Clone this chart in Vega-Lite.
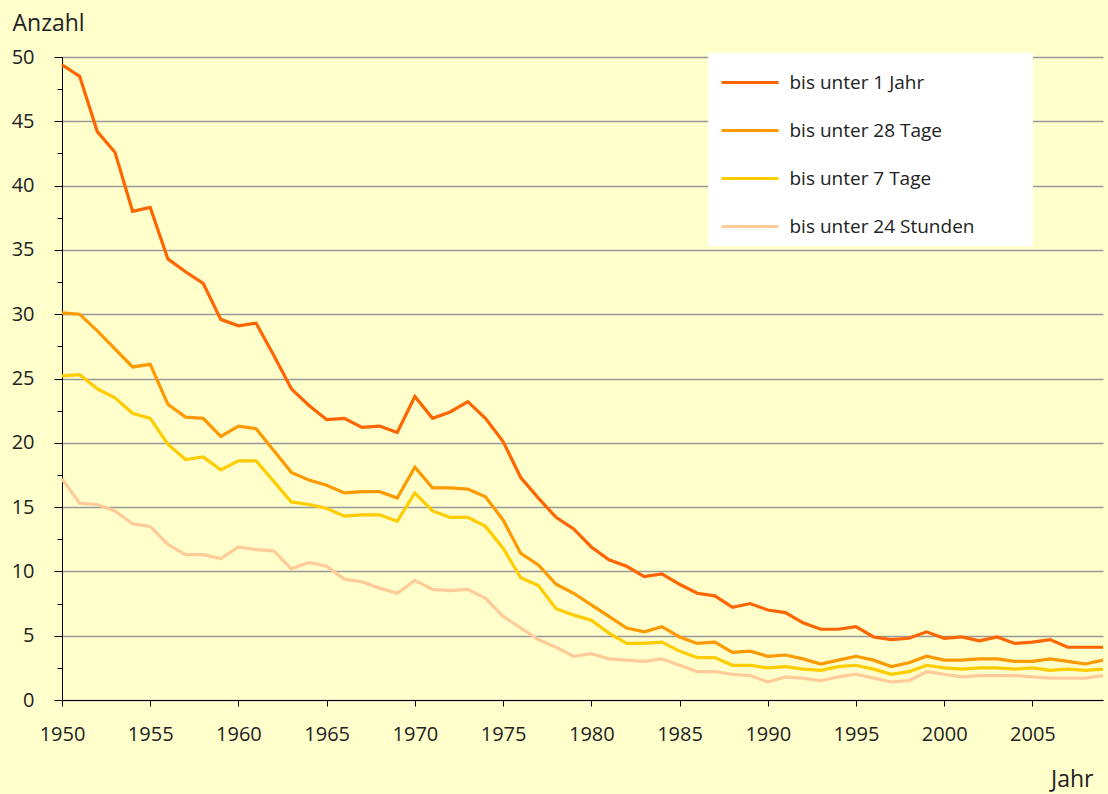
{
  "$schema": "https://vega.github.io/schema/vega-lite/v6.json",
  "width": 1041,
  "height": 643,
  "autosize": "none",
  "padding": {"left": 62, "top": 57, "right": 5, "bottom": 94},
  "background": "#ffffcc",
  "config": {"view": {"stroke": null}, "font": "Open Sans"},
  "data": {"values": [
    {"Jahr":1950,"bis unter 1 Jahr":49.4,"bis unter 28 Tage":30.1,"bis unter 7 Tage":25.2,"bis unter 24 Stunden":17.2},
    {"Jahr":1951,"bis unter 1 Jahr":48.5,"bis unter 28 Tage":30.0,"bis unter 7 Tage":25.3,"bis unter 24 Stunden":15.3},
    {"Jahr":1952,"bis unter 1 Jahr":44.2,"bis unter 28 Tage":28.7,"bis unter 7 Tage":24.2,"bis unter 24 Stunden":15.2},
    {"Jahr":1953,"bis unter 1 Jahr":42.6,"bis unter 28 Tage":27.3,"bis unter 7 Tage":23.5,"bis unter 24 Stunden":14.7},
    {"Jahr":1954,"bis unter 1 Jahr":38.0,"bis unter 28 Tage":25.9,"bis unter 7 Tage":22.3,"bis unter 24 Stunden":13.7},
    {"Jahr":1955,"bis unter 1 Jahr":38.3,"bis unter 28 Tage":26.1,"bis unter 7 Tage":21.9,"bis unter 24 Stunden":13.5},
    {"Jahr":1956,"bis unter 1 Jahr":34.3,"bis unter 28 Tage":23.0,"bis unter 7 Tage":19.9,"bis unter 24 Stunden":12.1},
    {"Jahr":1957,"bis unter 1 Jahr":33.3,"bis unter 28 Tage":22.0,"bis unter 7 Tage":18.7,"bis unter 24 Stunden":11.3},
    {"Jahr":1958,"bis unter 1 Jahr":32.4,"bis unter 28 Tage":21.9,"bis unter 7 Tage":18.9,"bis unter 24 Stunden":11.3},
    {"Jahr":1959,"bis unter 1 Jahr":29.6,"bis unter 28 Tage":20.5,"bis unter 7 Tage":17.9,"bis unter 24 Stunden":11.0},
    {"Jahr":1960,"bis unter 1 Jahr":29.1,"bis unter 28 Tage":21.3,"bis unter 7 Tage":18.6,"bis unter 24 Stunden":11.9},
    {"Jahr":1961,"bis unter 1 Jahr":29.3,"bis unter 28 Tage":21.1,"bis unter 7 Tage":18.6,"bis unter 24 Stunden":11.7},
    {"Jahr":1962,"bis unter 1 Jahr":26.8,"bis unter 28 Tage":19.4,"bis unter 7 Tage":17.0,"bis unter 24 Stunden":11.6},
    {"Jahr":1963,"bis unter 1 Jahr":24.2,"bis unter 28 Tage":17.7,"bis unter 7 Tage":15.4,"bis unter 24 Stunden":10.2},
    {"Jahr":1964,"bis unter 1 Jahr":22.9,"bis unter 28 Tage":17.1,"bis unter 7 Tage":15.2,"bis unter 24 Stunden":10.7},
    {"Jahr":1965,"bis unter 1 Jahr":21.8,"bis unter 28 Tage":16.7,"bis unter 7 Tage":14.9,"bis unter 24 Stunden":10.4},
    {"Jahr":1966,"bis unter 1 Jahr":21.9,"bis unter 28 Tage":16.1,"bis unter 7 Tage":14.3,"bis unter 24 Stunden":9.4},
    {"Jahr":1967,"bis unter 1 Jahr":21.2,"bis unter 28 Tage":16.2,"bis unter 7 Tage":14.4,"bis unter 24 Stunden":9.2},
    {"Jahr":1968,"bis unter 1 Jahr":21.3,"bis unter 28 Tage":16.2,"bis unter 7 Tage":14.4,"bis unter 24 Stunden":8.7},
    {"Jahr":1969,"bis unter 1 Jahr":20.8,"bis unter 28 Tage":15.7,"bis unter 7 Tage":13.9,"bis unter 24 Stunden":8.3},
    {"Jahr":1970,"bis unter 1 Jahr":23.6,"bis unter 28 Tage":18.1,"bis unter 7 Tage":16.1,"bis unter 24 Stunden":9.3},
    {"Jahr":1971,"bis unter 1 Jahr":21.9,"bis unter 28 Tage":16.5,"bis unter 7 Tage":14.7,"bis unter 24 Stunden":8.6},
    {"Jahr":1972,"bis unter 1 Jahr":22.4,"bis unter 28 Tage":16.5,"bis unter 7 Tage":14.2,"bis unter 24 Stunden":8.5},
    {"Jahr":1973,"bis unter 1 Jahr":23.2,"bis unter 28 Tage":16.4,"bis unter 7 Tage":14.2,"bis unter 24 Stunden":8.6},
    {"Jahr":1974,"bis unter 1 Jahr":21.9,"bis unter 28 Tage":15.8,"bis unter 7 Tage":13.5,"bis unter 24 Stunden":7.9},
    {"Jahr":1975,"bis unter 1 Jahr":20.1,"bis unter 28 Tage":14.0,"bis unter 7 Tage":11.8,"bis unter 24 Stunden":6.5},
    {"Jahr":1976,"bis unter 1 Jahr":17.3,"bis unter 28 Tage":11.4,"bis unter 7 Tage":9.5,"bis unter 24 Stunden":5.6},
    {"Jahr":1977,"bis unter 1 Jahr":15.7,"bis unter 28 Tage":10.5,"bis unter 7 Tage":8.9,"bis unter 24 Stunden":4.7},
    {"Jahr":1978,"bis unter 1 Jahr":14.2,"bis unter 28 Tage":9.0,"bis unter 7 Tage":7.1,"bis unter 24 Stunden":4.1},
    {"Jahr":1979,"bis unter 1 Jahr":13.3,"bis unter 28 Tage":8.3,"bis unter 7 Tage":6.6,"bis unter 24 Stunden":3.4},
    {"Jahr":1980,"bis unter 1 Jahr":11.9,"bis unter 28 Tage":7.4,"bis unter 7 Tage":6.2,"bis unter 24 Stunden":3.6},
    {"Jahr":1981,"bis unter 1 Jahr":10.9,"bis unter 28 Tage":6.5,"bis unter 7 Tage":5.2,"bis unter 24 Stunden":3.2},
    {"Jahr":1982,"bis unter 1 Jahr":10.4,"bis unter 28 Tage":5.6,"bis unter 7 Tage":4.4,"bis unter 24 Stunden":3.1},
    {"Jahr":1983,"bis unter 1 Jahr":9.6,"bis unter 28 Tage":5.3,"bis unter 7 Tage":4.4,"bis unter 24 Stunden":3.0},
    {"Jahr":1984,"bis unter 1 Jahr":9.8,"bis unter 28 Tage":5.7,"bis unter 7 Tage":4.5,"bis unter 24 Stunden":3.2},
    {"Jahr":1985,"bis unter 1 Jahr":9.0,"bis unter 28 Tage":4.9,"bis unter 7 Tage":3.8,"bis unter 24 Stunden":2.7},
    {"Jahr":1986,"bis unter 1 Jahr":8.3,"bis unter 28 Tage":4.4,"bis unter 7 Tage":3.3,"bis unter 24 Stunden":2.2},
    {"Jahr":1987,"bis unter 1 Jahr":8.1,"bis unter 28 Tage":4.5,"bis unter 7 Tage":3.3,"bis unter 24 Stunden":2.2},
    {"Jahr":1988,"bis unter 1 Jahr":7.2,"bis unter 28 Tage":3.7,"bis unter 7 Tage":2.7,"bis unter 24 Stunden":2.0},
    {"Jahr":1989,"bis unter 1 Jahr":7.5,"bis unter 28 Tage":3.8,"bis unter 7 Tage":2.7,"bis unter 24 Stunden":1.9},
    {"Jahr":1990,"bis unter 1 Jahr":7.0,"bis unter 28 Tage":3.4,"bis unter 7 Tage":2.5,"bis unter 24 Stunden":1.4},
    {"Jahr":1991,"bis unter 1 Jahr":6.8,"bis unter 28 Tage":3.5,"bis unter 7 Tage":2.6,"bis unter 24 Stunden":1.8},
    {"Jahr":1992,"bis unter 1 Jahr":6.0,"bis unter 28 Tage":3.2,"bis unter 7 Tage":2.4,"bis unter 24 Stunden":1.7},
    {"Jahr":1993,"bis unter 1 Jahr":5.5,"bis unter 28 Tage":2.8,"bis unter 7 Tage":2.3,"bis unter 24 Stunden":1.5},
    {"Jahr":1994,"bis unter 1 Jahr":5.5,"bis unter 28 Tage":3.1,"bis unter 7 Tage":2.6,"bis unter 24 Stunden":1.8},
    {"Jahr":1995,"bis unter 1 Jahr":5.7,"bis unter 28 Tage":3.4,"bis unter 7 Tage":2.7,"bis unter 24 Stunden":2.0},
    {"Jahr":1996,"bis unter 1 Jahr":4.9,"bis unter 28 Tage":3.1,"bis unter 7 Tage":2.4,"bis unter 24 Stunden":1.7},
    {"Jahr":1997,"bis unter 1 Jahr":4.7,"bis unter 28 Tage":2.6,"bis unter 7 Tage":2.0,"bis unter 24 Stunden":1.4},
    {"Jahr":1998,"bis unter 1 Jahr":4.8,"bis unter 28 Tage":2.9,"bis unter 7 Tage":2.2,"bis unter 24 Stunden":1.5},
    {"Jahr":1999,"bis unter 1 Jahr":5.3,"bis unter 28 Tage":3.4,"bis unter 7 Tage":2.7,"bis unter 24 Stunden":2.2},
    {"Jahr":2000,"bis unter 1 Jahr":4.8,"bis unter 28 Tage":3.1,"bis unter 7 Tage":2.5,"bis unter 24 Stunden":2.0},
    {"Jahr":2001,"bis unter 1 Jahr":4.9,"bis unter 28 Tage":3.1,"bis unter 7 Tage":2.4,"bis unter 24 Stunden":1.8},
    {"Jahr":2002,"bis unter 1 Jahr":4.6,"bis unter 28 Tage":3.2,"bis unter 7 Tage":2.5,"bis unter 24 Stunden":1.9},
    {"Jahr":2003,"bis unter 1 Jahr":4.9,"bis unter 28 Tage":3.2,"bis unter 7 Tage":2.5,"bis unter 24 Stunden":1.9},
    {"Jahr":2004,"bis unter 1 Jahr":4.4,"bis unter 28 Tage":3.0,"bis unter 7 Tage":2.4,"bis unter 24 Stunden":1.9},
    {"Jahr":2005,"bis unter 1 Jahr":4.5,"bis unter 28 Tage":3.0,"bis unter 7 Tage":2.5,"bis unter 24 Stunden":1.8},
    {"Jahr":2006,"bis unter 1 Jahr":4.7,"bis unter 28 Tage":3.2,"bis unter 7 Tage":2.3,"bis unter 24 Stunden":1.7},
    {"Jahr":2007,"bis unter 1 Jahr":4.1,"bis unter 28 Tage":3.0,"bis unter 7 Tage":2.4,"bis unter 24 Stunden":1.7},
    {"Jahr":2008,"bis unter 1 Jahr":4.1,"bis unter 28 Tage":2.8,"bis unter 7 Tage":2.3,"bis unter 24 Stunden":1.7},
    {"Jahr":2009,"bis unter 1 Jahr":4.1,"bis unter 28 Tage":3.1,"bis unter 7 Tage":2.4,"bis unter 24 Stunden":1.9}
  ]},
  "transform": [
    {"fold": ["bis unter 1 Jahr", "bis unter 28 Tage", "bis unter 7 Tage", "bis unter 24 Stunden"], "as": ["Gruppe", "Anzahl"]}
  ],
  "mark": {"type": "line", "strokeWidth": 3.2, "clip": false},
  "encoding": {
    "x": {
      "field": "Jahr", "type": "quantitative",
      "scale": {"domain": [1950, 2009], "nice": false, "zero": false},
      "axis": {
        "values": [1950, 1955, 1960, 1965, 1970, 1975, 1980, 1985, 1990, 1995, 2000, 2005],
        "format": "d", "grid": false,
        "domainColor": "#000000", "domainWidth": 1,
        "tickColor": "#000000", "tickSize": 6, "tickWidth": 1,
        "labelPadding": 18, "labelFontSize": 20, "labelColor": "#222222", "labelFont": "Open Sans", "labelDx": -3, "labelFlush": false,
        "title": "Jahr", "titleFont": "Open Sans", "titleFontSize": 23, "titleFontWeight": "normal", "titleColor": "#222222",
        "titleAlign": "right", "titleX": 1031, "titleY": 86, "titleBaseline": "alphabetic"
      }
    },
    "y": {
      "field": "Anzahl", "type": "quantitative",
      "scale": {"domain": [0, 50], "nice": false},
      "axis": {
        "values": [0, 2.5, 5, 7.5, 10, 12.5, 15, 17.5, 20, 22.5, 25, 27.5, 30, 32.5, 35, 37.5, 40, 42.5, 45, 47.5, 50],
        "labelExpr": "datum.value % 5 === 0 ? datum.label : ''",
        "grid": true, "gridColor": "#999999", "gridWidth": 1.4,
        "gridOpacity": {"condition": {"test": "datum.value % 5 === 0", "value": 1}, "value": 0},
        "domainColor": "#000000", "domainWidth": 1,
        "tickColor": "#000000", "tickWidth": 1,
        "tickSize": {"condition": {"test": "datum.value % 5 === 0", "value": 8}, "value": 5},
        "labelPadding": 20, "labelFontSize": 20, "labelColor": "#222222", "labelFont": "Open Sans",
        "title": "Anzahl", "titleFont": "Open Sans", "titleFontSize": 23, "titleFontWeight": "normal", "titleColor": "#222222",
        "titleAngle": 0, "titleAlign": "left", "titleX": -50, "titleY": -27, "titleBaseline": "alphabetic"
      }
    },
    "color": {
      "field": "Gruppe", "type": "nominal",
      "scale": {
        "domain": ["bis unter 1 Jahr", "bis unter 28 Tage", "bis unter 7 Tage", "bis unter 24 Stunden"],
        "range": ["#ff6600", "#ff9900", "#ffcc00", "#ffcc99"]
      },
      "legend": {
        "orient": "none", "legendX": 646, "legendY": -4,
        "title": null, "fillColor": "#ffffff", "padding": 9,
        "symbolType": "M-1.5,0H1.5", "symbolSize": 1444, "symbolStrokeWidth": 3, "symbolOffset": 12.5,
        "labelOffset": 19, "labelFontSize": 19, "labelColor": "#222222", "labelFont": "Open Sans", "labelLimit": 500,
        "rowPadding": 17,
        "labelExpr": "datum.label + '\u00a0\u00a0\u00a0\u00a0\u00a0\u00a0\u00a0\u00a0\u00a0\u00a0\u200b'"
      }
    }
  }
}
